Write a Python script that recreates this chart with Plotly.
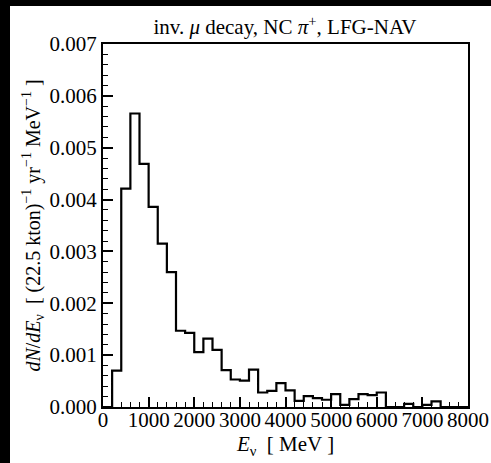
import plotly.graph_objects as go

# bin edges (MeV) and histogram values
bin_width = 200
bin_lo = list(range(0, 8000, bin_width))
counts = [
    0.0, 0.00070, 0.00421, 0.00566, 0.00469, 0.00386, 0.00315, 0.00260,
    0.00147, 0.00143, 0.00106, 0.00132, 0.00110, 0.00071, 0.00053, 0.00051,
    0.00072, 0.00028, 0.00031, 0.00046, 0.00032, 0.00012, 0.00021, 0.00017,
    0.00014, 0.00025, 0.00004, 0.00015, 0.00025, 0.00023, 0.00028, 0.0,
    0.0, 0.00006, 0.0, 0.00004, 0.00011, 0.0, 0.0, 0.0,
]
x_ticks = list(range(0, 8001, 1000))
y_ticks = [0.000, 0.001, 0.002, 0.003, 0.004, 0.005, 0.006, 0.007]

xs = bin_lo + [bin_lo[-1] + bin_width]
ys = counts + [counts[-1]]

FAM = "Liberation Serif"
F = dict(family=FAM, size=21, color="black")

W, H = 491, 463
# plot-area box in pixels (left, right, top, bottom)
PL, PR, PT, PB = 103, 468, 44, 407

fig = go.Figure()
# full-page helper axes (pixel units) used only for the black frame strips of the scan
fig.add_trace(go.Scatter(x=[0, 10, 10, W, W, 0, 0], y=[0, 0, H - 6, H - 6, H, H, 0],
                         mode="lines", fill="toself", fillcolor="black", line=dict(width=0, color="black"),
                         xaxis="x2", yaxis="y2", showlegend=False, hoverinfo="skip"))
fig.add_trace(go.Scatter(x=xs, y=ys, mode="lines", line=dict(shape="hv", color="black", width=2.2),
                         showlegend=False, hoverinfo="skip"))

fig.update_layout(
    width=W, height=H, autosize=False,
    margin=dict(l=0, r=0, t=0, b=0, pad=0),
    paper_bgcolor="white", plot_bgcolor="rgba(0,0,0,0)",
    font=F,
    title=dict(text="inv. <i>μ</i> decay, NC <i>π</i><sup>+</sup>, LFG-NAV",
               x=285 / W, xref="paper", xanchor="center",
               y=1 - 27 / H, yanchor="middle", font=F),
    xaxis2=dict(domain=[0, 1], range=[0, W], visible=False, fixedrange=True, anchor="y2"),
    yaxis2=dict(domain=[0, 1], range=[0, H], visible=False, fixedrange=True, anchor="x2"),
    xaxis=dict(domain=[PL / W, PR / W], anchor="y", range=[0, 8000], tickvals=x_ticks, ticks="inside",
               ticklen=10, tickwidth=1.5, automargin=False, ticklabelstandoff=-7,
               tickcolor="black", showline=True, linecolor="black", linewidth=2, mirror=True,
               showgrid=False, zeroline=False,
               minor=dict(dtick=200, ticks="inside", ticklen=5, tickwidth=1.2, tickcolor="black", showgrid=False),
               title=dict(text="<i>E</i><sub>ν</sub>  [ MeV ]", standoff=0, font=F),
               tickfont=F),
    yaxis=dict(domain=[1 - PB / H, 1 - PT / H], anchor="x", range=[0, 0.007], tickvals=y_ticks,
               tickformat=".3f", ticks="inside", ticklen=10, automargin=False,
               tickwidth=1.5, tickcolor="black", showline=True, linecolor="black", linewidth=2,
               mirror=True, showgrid=False, zeroline=False,
               minor=dict(dtick=0.0002, ticks="inside", ticklen=5, tickwidth=1.2, tickcolor="black", showgrid=False),
               title=dict(text="<i>dN</i>/<i>dE</i><sub>ν</sub>  [ (22.5 kton)<sup>−1</sup> yr<sup>−1</sup> MeV<sup>−1</sup> ]",
                          standoff=4, font=dict(family=FAM, size=20, color="black")),
               tickfont=F),
)

fig.write_html("out.html", config={"displayModeBar": False})
